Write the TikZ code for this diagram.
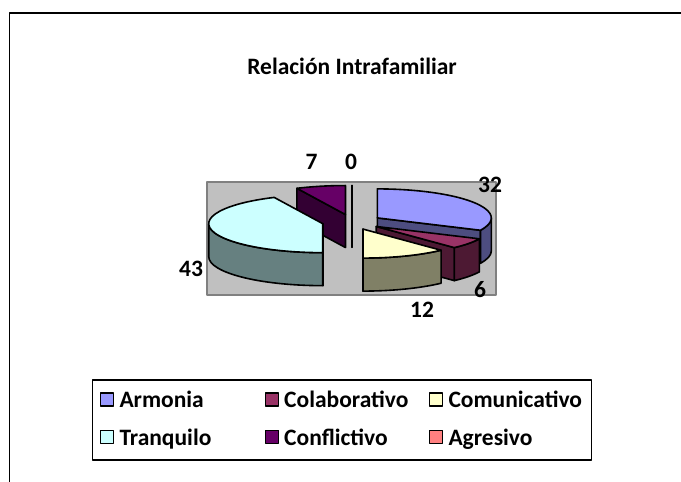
\documentclass[tikz,border=0pt]{standalone}
\usepackage{fontspec}
\setmainfont{Carlito}
\definecolor{armonia}{HTML}{9999FF}
\definecolor{armoniaD}{HTML}{4D4D80}
\definecolor{colaborativo}{HTML}{993366}
\definecolor{colaborativoD}{HTML}{4D1933}
\definecolor{comunicativo}{HTML}{FFFFCC}
\definecolor{comunicativoD}{HTML}{808066}
\definecolor{tranquilo}{HTML}{CCFFFF}
\definecolor{tranquiloD}{HTML}{668080}
\definecolor{conflictivo}{HTML}{660066}
\definecolor{conflictivoD}{HTML}{330033}
\definecolor{agresivo}{HTML}{FF8080}
\definecolor{plotgray}{HTML}{C0C0C0}
\definecolor{plotedge}{HTML}{808080}
\begin{document}
\begin{tikzpicture}[x=1pt,y=1pt,line join=round,font=\fontsize{23.5}{27}\selectfont\bfseries,
  face/.style={draw=black,line width=1.6pt},
  lab/.style={anchor=base,inner sep=0pt}]
\def\ox{352}
\def\oy{260}
\def\rx{114}
\def\ry{29}
\def\pieh{33}
\def\ex{30}
\useasboundingbox (0,0) rectangle (681,482);
\draw[line width=1.3pt] (681,469) -- (9.5,469) -- (9.5,0);
\node[lab] (title) at (352,407) {Relación Intrafamiliar};
% plot area
\filldraw[draw=plotedge,fill=plotgray,line width=1.6pt] (207,187) rectangle (496,300);
% slices, back to front
\foreach \pa/\pb/\pc/\ra/\rb/\ctop/\cside in {90/90/90/0/0/agresivo/agresivo,
  90/115.2/115.2/0/0/conflictivo/conflictivoD,
  -25.2/90/-25.2/-25.2/0/armonia/armoniaD,
  115.2/270/270/180/270/tranquilo/tranquiloD,
  -46.8/-25.2/-46.8/-46.8/-25.2/colaborativo/colaborativoD,
  -90/-46.8/-90/-90/-46.8/comunicativo/comunicativoD}{
  \pgfmathsetmacro\m{(\pa+\pb)/2}
  \pgfmathsetmacro\cx{\ox+\ex*cos(\m)}
  \pgfmathsetmacro\cy{\oy+\ex*\ry/\rx*sin(\m)}
  \coordinate (c) at (\cx,\cy);
  \filldraw[face,fill=\cside] (c) -- ++({\rx*cos(\pc)},{\ry*sin(\pc)}) -- ++(0,-\pieh)
    -- ++({-\rx*cos(\pc)},{-\ry*sin(\pc)}) -- cycle;
  \ifdim\ra pt<\rb pt
  \filldraw[face,fill=\cside] ({\cx+\rx*cos(\ra)},{\cy+\ry*sin(\ra)})
    arc[start angle=\ra,end angle=\rb,x radius=\rx,y radius=\ry] -- ++(0,-\pieh)
    arc[start angle=\rb,end angle=\ra,x radius=\rx,y radius=\ry] -- cycle;
  \fi
  \ifdim\pa pt<\pb pt
  \filldraw[face,fill=\ctop] (c) -- ++({\rx*cos(\pa)},{\ry*sin(\pa)})
    arc[start angle=\pa,end angle=\pb,x radius=\rx,y radius=\ry] -- cycle;
  \fi
}
% values
\node[lab] (v32) at (490,289) {32};
\node[lab] (v6) at (480,184) {6};
\node[lab] (v12) at (422,164) {12};
\node[lab] (v43) at (191,205) {43};
\node[lab] (v7) at (311.7,312) {7};
\node[lab] (v0) at (351,312) {0};
% legend
\draw[line width=1.3pt] (92.7,22) rectangle (591.7,102);
\foreach \nm/\col/\xx/\yy in {Armonia/armonia/107.3/82.5,Colaborativo/colaborativo/272/82.5,
  Comunicativo/comunicativo/436.3/82.5,Tranquilo/tranquilo/107.3/45.3,
  Conflictivo/conflictivo/272/45.3,Agresivo/agresivo/436.3/45.3}{
  \filldraw[line width=1.3pt,fill=\col] (\xx-6.5,\yy-6.5) rectangle ++(13,13);
  \node[anchor=base west,inner sep=0pt] (\nm) at (\xx+12,\yy-8.4) {\nm};
}
\end{tikzpicture}
\end{document}
